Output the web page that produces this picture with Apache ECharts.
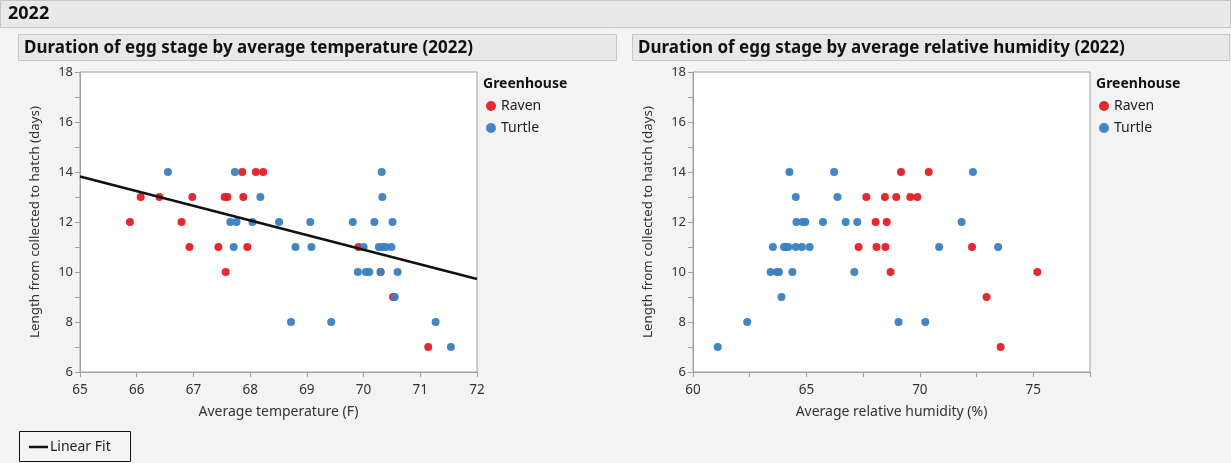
<!DOCTYPE html>
<html>
<head>
<meta charset="utf-8">
<script src="https://cdn.jsdelivr.net/npm/echarts@6/dist/echarts.min.js"></script>
<style>
  html, body { margin: 0; padding: 0; background: #f3f3f3; }
  #chart { width: 1231px; height: 463px; }
</style>
</head>
<body>
<div id="chart"></div>
<script>
// Egg stage duration (days) per greenhouse, paired with average temperature (F)
const ravenTemp = [
  [67.86, 14], [68.10, 14], [68.23, 14],
  [66.07, 13], [66.40, 13], [66.98, 13], [67.55, 13], [67.60, 13], [67.88, 13],
  [65.88, 12], [66.79, 12],
  [66.93, 11], [67.44, 11], [67.95, 11], [69.91, 11],
  [67.57, 10], [70.30, 10],
  [70.52, 9],
  [71.14, 7]
];
const turtleTemp = [
  [66.55, 14], [67.73, 14], [70.32, 14],
  [68.18, 13], [70.33, 13],
  [67.65, 12], [67.76, 12], [68.04, 12], [68.51, 12], [69.06, 12], [69.81, 12], [70.19, 12], [70.51, 12],
  [67.71, 11], [68.80, 11], [69.08, 11], [70.00, 11], [70.27, 11], [70.33, 11], [70.39, 11], [70.49, 11],
  [69.90, 10], [70.04, 10], [70.10, 10], [70.30, 10], [70.60, 10],
  [70.55, 9],
  [68.72, 8], [69.43, 8], [71.27, 8],
  [71.54, 7]
];
// Same durations paired with average relative humidity (%)
const ravenHumidity = [
  [69.17, 14], [70.39, 14],
  [67.64, 13], [68.46, 13], [68.96, 13], [69.58, 13], [69.89, 13],
  [68.05, 12], [68.54, 12],
  [67.30, 11], [68.09, 11], [68.48, 11], [72.30, 11],
  [68.71, 10], [75.18, 10],
  [72.94, 9],
  [73.56, 7]
];
const turtleHumidity = [
  [64.25, 14], [66.22, 14], [72.34, 14],
  [64.53, 13], [66.37, 13],
  [64.56, 12], [64.83, 12], [64.95, 12], [65.73, 12], [66.73, 12], [67.24, 12], [71.84, 12],
  [63.52, 11], [64.01, 11], [64.10, 11], [64.20, 11], [64.53, 11], [64.80, 11], [65.14, 11], [70.85, 11], [73.45, 11],
  [63.42, 10], [63.70, 10], [63.79, 10], [64.38, 10], [67.11, 10],
  [63.90, 9],
  [62.39, 8], [69.06, 8], [70.24, 8],
  [61.09, 7]
];
// Linear fit of duration on temperature, given by its two ends
const tempFit = [[65, 13.82], [72, 9.72]];

const greenhouses = ['Raven', 'Turtle'];
const tempRange = [65, 72];
const humidityRange = [60, 77.5];
const daysRange = [6, 18];

const RED = '#e41e26';
const BLUE = '#3a7fc0';
const FONT = '"Noto Sans", "Open Sans", sans-serif';
const AXIS_GREY = '#a0a0a0';
const TEXT = '#333333';

const chart = echarts.init(document.getElementById('chart'), null, { renderer: 'canvas' });

function yAxisFor(gridIndex) {
  return {
    gridIndex, type: 'value', min: daysRange[0], max: daysRange[1], interval: 1,
    name: 'Length from collected to hatch (days)', nameLocation: 'middle', nameGap: 38,
    nameTextStyle: { fontFamily: FONT, fontSize: 13.3, color: TEXT },
    axisLine: { show: true, lineStyle: { color: AXIS_GREY } },
    axisTick: { show: true, length: 5, lineStyle: { color: AXIS_GREY } },
    axisLabel: { fontFamily: FONT, fontSize: 13, color: TEXT, margin: 7,
      formatter: v => (v % 2 === 0 ? String(v) : '') },
    splitLine: { show: false }
  };
}

function xAxisFor(gridIndex, range, step, labelStep, title) {
  return {
    gridIndex, type: 'value', min: range[0], max: range[1], interval: step,
    name: title, nameLocation: 'middle', nameGap: 33,
    nameTextStyle: { fontFamily: FONT, fontSize: 14, color: TEXT },
    axisLine: { show: true, lineStyle: { color: AXIS_GREY } },
    axisTick: { show: true, length: 5, lineStyle: { color: AXIS_GREY } },
    axisLabel: { fontFamily: FONT, fontSize: 13.5, color: TEXT, margin: 11,
      formatter: v => (v % labelStep === 0 ? String(v) : '') },
    splitLine: { show: false }
  };
}

function scatter(name, data, color, xi) {
  return {
    type: 'scatter', name, data, xAxisIndex: xi, yAxisIndex: xi,
    symbol: 'circle', symbolSize: 8,
    itemStyle: { color, opacity: 0.95 },
    emphasis: { disabled: true }, silent: true
  };
}

function legendAt(left) {
  return {
    data: greenhouses, orient: 'vertical', left, top: 94, itemGap: 8,
    icon: 'circle', itemWidth: 10, itemHeight: 10, selectedMode: false,
    textStyle: { fontFamily: FONT, fontSize: 14, color: '#222' }
  };
}

function panelGraphics(x, w, title, legendX) {
  return [
    { type: 'rect', shape: { x: x + 0.5, y: 34.5, width: w, height: 26 },
      style: { fill: '#e8e8e8', stroke: '#c8c8c8', lineWidth: 1 }, silent: true },
    { type: 'text', x: x + 6, y: 48,
      style: { text: title, fontFamily: FONT, fontWeight: 'bold', fontSize: 17,
        fill: '#111', verticalAlign: 'middle' }, silent: true },
    { type: 'text', x: legendX, y: 84,
      style: { text: 'Greenhouse', fontFamily: FONT, fontWeight: 'bold', fontSize: 14,
        fill: '#111', verticalAlign: 'middle' }, silent: true }
  ];
}

const option = {
  backgroundColor: '#f3f3f3',
  animation: false,
  grid: [
    { left: 80, top: 72, width: 397, height: 300, show: true, backgroundColor: '#ffffff',
      borderColor: AXIS_GREY, borderWidth: 1 },
    { left: 693, top: 72, width: 397, height: 300, show: true, backgroundColor: '#ffffff',
      borderColor: AXIS_GREY, borderWidth: 1 }
  ],
  xAxis: [
    xAxisFor(0, tempRange, 1, 1, 'Average temperature (F)'),
    xAxisFor(1, humidityRange, 2.5, 5, 'Average relative humidity (%)')
  ],
  yAxis: [yAxisFor(0), yAxisFor(1)],
  legend: [legendAt(481), legendAt(1094)],
  color: [RED, BLUE],
  series: [
    scatter('Raven', ravenTemp, RED, 0),
    scatter('Turtle', turtleTemp, BLUE, 0),
    {
      type: 'line', name: 'Linear Fit', data: tempFit, xAxisIndex: 0, yAxisIndex: 0,
      symbol: 'none', lineStyle: { color: '#111', width: 2.5 }, silent: true, z: 3
    },
    scatter('Raven', ravenHumidity, RED, 1),
    scatter('Turtle', turtleHumidity, BLUE, 1)
  ],
  graphic: [
    { type: 'rect', shape: { x: 0.5, y: 0.5, width: 1230, height: 27 },
      style: { fill: '#e9e9e9', stroke: '#c6c6c6', lineWidth: 1 }, silent: true },
    { type: 'text', x: 8, y: 14,
      style: { text: '2022', fontFamily: FONT, fontWeight: 'bold', fontSize: 18,
        fill: '#111', verticalAlign: 'middle' }, silent: true },
    ...panelGraphics(18, 598, 'Duration of egg stage by average temperature (2022)', 483),
    ...panelGraphics(632, 597, 'Duration of egg stage by average relative humidity (2022)', 1096),
    // key for the fitted line
    { type: 'rect', shape: { x: 19.5, y: 431.5, width: 111, height: 30 },
      style: { fill: '#f3f3f3', stroke: '#111', lineWidth: 1 }, silent: true },
    { type: 'line', shape: { x1: 29, y1: 447, x2: 48, y2: 447 },
      style: { stroke: '#111', lineWidth: 2.5 }, silent: true },
    { type: 'text', x: 50, y: 447,
      style: { text: 'Linear Fit', fontFamily: FONT, fontSize: 14, fill: '#222',
        verticalAlign: 'middle' }, silent: true }
  ]
};

chart.setOption(option);
</script>
</body>
</html>
